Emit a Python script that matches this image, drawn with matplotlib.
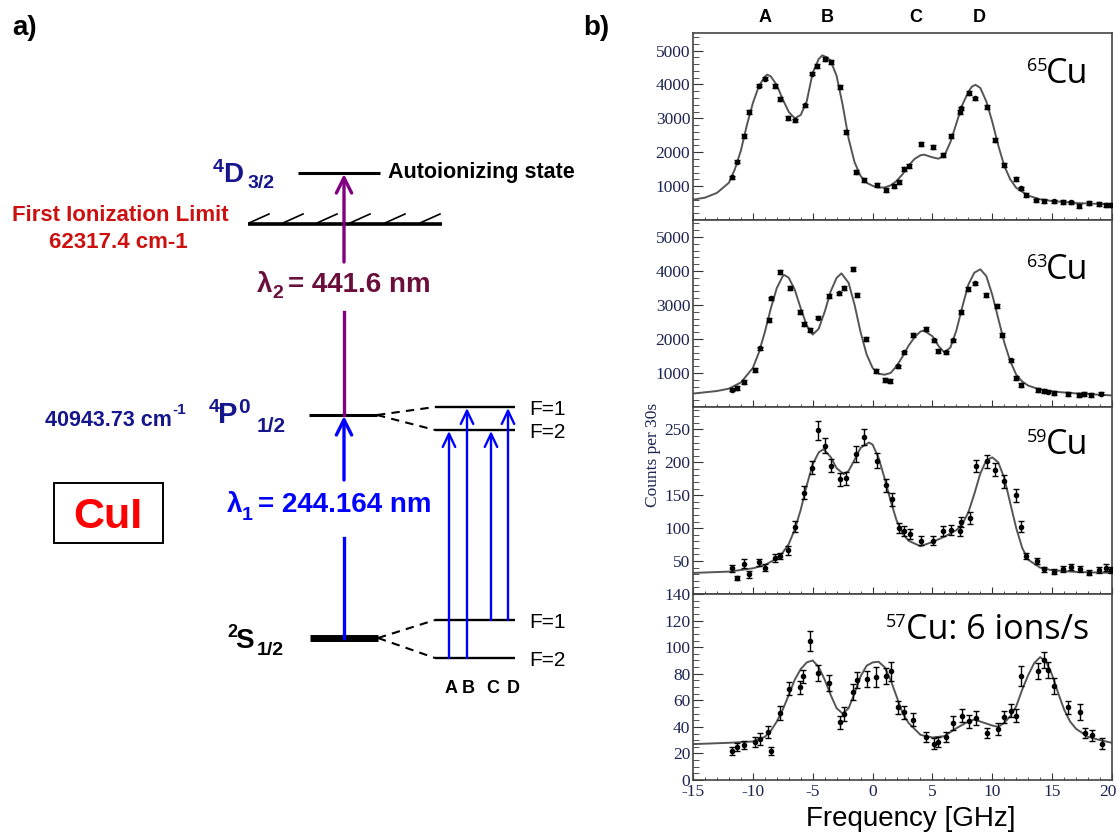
import numpy as np
import matplotlib
matplotlib.use('Agg')
import matplotlib.pyplot as plt
from matplotlib.ticker import MultipleLocator, FixedLocator, FuncFormatter

plt.rcParams['axes.unicode_minus'] = False

# ---------------- panel b) data (read from the picture) ----------------
# 65Cu
freq_65 = [-11.76, -11.29, -10.73, -10.31, -9.47, -8.97, -8.13, -7.71, -7.07, -6.46,
           -5.62, -5.06, -4.64, -3.94, -3.44, -2.69, -2.21, -1.40, -0.73, 0.38,
           1.08, 1.78, 2.20, 2.62, 3.03, 4.07, 5.04, 5.88, 6.58, 7.28,
           7.36, 8.06, 8.56, 9.60, 10.24, 10.99, 11.97, 12.44, 12.80, 13.64,
           14.34, 15.18, 15.88, 16.57, 17.27, 18.11, 18.89, 19.50, 19.90]
counts_65 = [1255, 1725, 2480, 3185, 3970, 4175, 3950, 3575, 3018, 2940,
             3380, 4322, 4537, 4753, 4655, 3920, 2607, 1421, 1176, 1029,
             892, 1009, 1127, 1500, 1597, 2254, 2146, 1911, 2480, 3185,
             3293, 3753, 3587, 3333, 2352, 1617, 1205, 931, 735, 578,
             559, 549, 529, 519, 421, 500, 480, 441, 450]
fit_f_65 = [-15, -14, -13, -12, -11.5, -11, -10.5, -10, -9.5, -9, -8.8, -8.5, -8, -7.5, -7,
            -6.5, -6, -5.5, -5, -4.5, -4.2, -3.8, -3.5, -3, -2.5, -2, -1.5, -1, -0.5, 0,
            0.5, 1, 1.5, 2, 2.5, 3, 3.5, 4, 4.3, 5, 5.5, 6, 6.5, 7, 7.5,
            8, 8.3, 8.6, 9, 9.5, 10, 10.5, 11, 11.5, 12, 13, 14, 15, 17, 20]
fit_c_65 = [600, 660, 800, 1100, 1500, 2050, 2800, 3450, 3950, 4230, 4290, 4240, 3980, 3560, 3190,
            3000, 3100, 3500, 4350, 4750, 4860, 4800, 4700, 4250, 3400, 2400, 1700, 1300, 1100, 1010,
            960, 960, 1020, 1150, 1350, 1600, 1800, 1910, 1930, 1850, 1810, 1900, 2300, 2850, 3400,
            3780, 3940, 3990, 3900, 3500, 2900, 2200, 1600, 1200, 950, 720, 610, 560, 500, 460]

# 63Cu
freq_63 = [-11.76, -11.29, -10.73, -9.81, -9.39, -8.69, -8.50, -7.71, -6.93, -6.10,
           -5.76, -5.26, -4.59, -3.61, -2.77, -2.41, -1.66, -1.29, -0.51, 0.27,
           1.00, 1.44, 2.11, 2.62, 3.37, 4.43, 5.13, 5.46, 6.10, 6.72,
           7.42, 8.00, 8.56, 9.51, 10.43, 10.85, 11.55, 11.97, 12.39, 13.78,
           14.29, 14.62, 15.12, 16.30, 17.27, 17.69, 18.25, 19.09]
counts_63 = [512, 561, 727, 1098, 1722, 2561, 3195, 3976, 3498, 2805,
             2434, 2268, 2629, 3263, 3341, 3498, 4054, 3293, 1995, 1049,
             805, 756, 1195, 1605, 2122, 2288, 1956, 1654, 1605, 1956,
             2805, 3478, 3634, 3293, 2971, 2122, 1371, 854, 639, 502,
             473, 454, 415, 385, 346, 385, 346, 395]
fit_f_63 = [-15, -13, -12, -11, -10, -9.5, -9, -8.5, -8, -7.5, -7.35, -7, -6.5, -6, -5.5,
            -5, -4.5, -4, -3.5, -3, -2.6, -2, -1.5, -1, -0.5, 0, 0.5, 1, 1.5, 2,
            2.5, 3, 3.5, 4, 4.3, 5, 5.5, 6, 6.5, 7, 7.5, 8, 8.5, 9, 9.5,
            10, 10.5, 11, 11.5, 12, 12.5, 13, 14, 15, 17, 20]
fit_c_63 = [395, 470, 540, 720, 1150, 1600, 2200, 2900, 3500, 3850, 3880, 3800, 3450, 2900, 2400,
            2130, 2300, 2800, 3400, 3800, 3930, 3650, 3000, 2200, 1550, 1150, 980, 950, 1000, 1200,
            1480, 1800, 2050, 2220, 2250, 2080, 1800, 1600, 1750, 2250, 2950, 3600, 3950, 4050, 3850,
            3300, 2600, 1900, 1350, 950, 750, 630, 510, 455, 400, 340]

# 59Cu
freq_59 = [-11.71, -11.29, -10.73, -10.31, -9.47, -8.97, -8.13, -7.71, -7.10, -6.46,
           -5.70, -5.06, -4.59, -4.00, -3.44, -2.69, -2.21, -1.40, -0.73, 0.38,
           1.08, 1.64, 2.20, 2.62, 3.09, 4.07, 5.04, 5.88, 6.58, 7.28,
           7.36, 8.14, 8.62, 9.54, 10.24, 10.99, 11.97, 12.44, 12.80, 13.70,
           14.34, 15.18, 15.88, 16.57, 17.35, 18.11, 18.89, 19.50, 19.95]
counts_59 = [39, 24, 46, 30, 48, 40, 54, 57.5, 66.5, 102.5,
             154, 192, 248.5, 225.5, 195, 174, 176, 212.5, 238, 202.5,
             165, 144, 100, 96, 91, 81, 81, 96, 97.5, 96,
             109, 115, 195, 201.5, 188.5, 171, 150, 102.5, 57.5, 50,
             37.5, 34, 38, 41, 38, 32.5, 36.5, 40, 36.5]
err_59 = [5, 3, 7, 5, 5, 5, 6, 5, 7, 8,
          10, 10, 14, 11, 10, 10, 10, 12, 12, 11,
          10, 10, 8, 8, 8, 7, 7, 8, 8, 8,
          8, 9, 9, 10, 10, 10, 10, 8, 5, 5,
          4, 4, 4, 4, 4, 4, 4, 5, 4]
fit_f_59 = [-15, -12, -10, -9, -8, -7.5, -7, -6.5, -6, -5.5, -5, -4.5, -4.1, -3.5, -3,
            -2.4, -2, -1.5, -1, -0.3, 0, 0.5, 1, 1.5, 2, 2.5, 3, 4, 5, 6,
            7, 7.5, 8, 8.5, 9, 9.5, 10, 10.5, 11, 11.5, 12, 12.5, 13, 14, 15, 17, 20]
fit_c_59 = [32, 34, 39, 44, 54, 63, 76, 98, 128, 165, 197, 215, 220, 208, 191,
            182, 187, 204, 222, 230, 227, 207, 176, 142, 112, 92, 81, 72.5, 79, 87,
            97, 106, 124, 152, 183, 203, 207.5, 200, 176, 138, 100, 70, 52, 40, 36, 33.5, 32]

# 57Cu
freq_57 = [-11.78, -11.30, -10.74, -9.82, -9.40, -8.70, -8.50, -7.72, -6.94, -6.10,
           -5.82, -5.25, -4.58, -3.60, -2.73, -2.40, -1.64, -1.28, -0.49, 0.29,
           1.10, 1.52, 2.14, 2.64, 3.40, 4.46, 5.16, 5.50, 6.14, 6.76,
           7.46, 8.05, 8.60, 9.56, 10.48, 10.96, 11.55, 12.02, 12.44, 13.84,
           14.35, 14.68, 15.19, 16.36, 17.34, 17.76, 18.32, 19.16]
counts_57 = [21.75, 24.75, 26.25, 28.5, 31, 36.25, 21.75, 50.5, 68.75, 69.75,
             78, 104.75, 80.5, 73, 43.5, 49.75, 66, 75.5, 76.25, 77.5,
             78, 81.75, 54.75, 51, 45.5, 32.25, 27.25, 28.5, 32.25, 43,
             48.5, 44.25, 46.75, 35.5, 38.5, 47.25, 52.25, 48.5, 78.5, 81.75,
             90.5, 83, 71, 54.75, 51.25, 35.5, 33.5, 27.25]
err_57 = [3, 3, 3, 4, 4.5, 4.5, 3, 5, 5, 5,
          5, 7.5, 6, 6, 5, 5, 6, 6, 6, 7.5,
          6, 7, 5, 5, 5, 4, 4, 4, 4, 5,
          5, 5, 5, 4, 4.5, 4.5, 5, 5, 7.5, 6,
          6, 6, 6, 5, 6, 4, 4, 4]
fit_f_57 = [-15, -12, -10, -9, -8.5, -8, -7.5, -7, -6.5, -6, -5.5, -5, -4.5, -4, -3.5,
            -3, -2.5, -2, -1.5, -1, -0.5, 0, 0.5, 1, 1.5, 2, 2.5, 3, 4, 5,
            6, 7, 8, 8.5, 9, 10, 10.5, 11, 11.5, 12, 12.5, 13, 13.5, 14, 14.5,
            15, 15.5, 16, 16.5, 17, 18, 19, 20]
fit_c_57 = [27, 28, 29, 32.5, 37, 44, 53, 64, 75.5, 83.5, 88.5, 90, 85, 75.5, 64,
            54, 50, 54, 65.5, 78, 86, 88.5, 89, 85, 75.5, 63, 50.5, 43, 34, 32,
            33, 39, 44, 45.5, 44, 41, 40, 43, 48, 55.5, 68, 79, 88, 92.5, 89,
            79, 65.5, 53, 44, 38.5, 32.5, 30, 28]

peak_names = ['A', 'B', 'C', 'D']
peak_pos = [-9.0, -3.8, 3.6, 8.9]   # GHz, where the letters sit above the top panel

# ---------------- figure ----------------
W, H = 1117, 834
fig = plt.figure(figsize=(W / 100, H / 100), dpi=100)

# overlay in pixel units for the level scheme a) and loose labels (kept on top)
ov = fig.add_axes([0, 0, 1, 1])
ov.set_xlim(0, W)
ov.set_ylim(H, 0)
ov.axis('off')
ov.set_zorder(10)

navy = '#15158c'
red_dark = '#cc1010'
blue = '#0000ff'
purple = '#800080'
maroon = '#6a0f3c'


def txt(x, y, s, size, color='black', weight='bold', ha='left', family='Liberation Sans', **kw):
    ov.text(x, y, s, fontsize=size, color=color, fontweight=weight, ha=ha,
            va='baseline', family=family, **kw)


def seta(x, y0, y1, color, lw, hl, hw):
    ov.annotate('', xy=(x, y1), xytext=(x, y0),
                arrowprops=dict(arrowstyle=f'->,head_length={hl},head_width={hw}',
                                color=color, lw=lw, shrinkA=0, shrinkB=0,
                                mutation_scale=10))


# level heights (pixels)
y_D, y_ion, y_P, y_S = 173, 224, 415, 638
y_P_F1, y_P_F2 = 407, 430
y_S_F1, y_S_F2 = 620, 658
hatch_x = [249, 283, 317, 350, 385, 420]

# main levels
ov.plot([298, 380], [y_D, y_D], color='black', lw=2.2, solid_capstyle='butt')
ov.plot([248, 442], [y_ion, y_ion], color='black', lw=2.6, solid_capstyle='butt')
for xh in hatch_x:
    ov.plot([xh, xh + 20], [y_ion - 1, y_ion - 10], color='black', lw=1.2)
ov.plot([309, 377], [y_P, y_P], color='black', lw=2.2, solid_capstyle='butt')
ov.plot([310, 378], [y_S, y_S], color='black', lw=5, solid_capstyle='butt')

# hyperfine levels
for yF in (y_P_F1, y_P_F2):
    ov.plot([377, 435], [y_P, yF], color='black', lw=1.5, ls=(0, (4, 3)))
    ov.plot([435, 515], [yF, yF], color='black', lw=1.7, solid_capstyle='butt')
for yF in (y_S_F1, y_S_F2):
    ov.plot([378, 435], [y_S, yF], color='black', lw=1.5, ls=(0, (4, 3)))
    ov.plot([435, 515], [yF, yF], color='black', lw=1.7, solid_capstyle='butt')

# excitation arrows with a gap for the wavelength labels
x_main = 344
ov.plot([x_main, x_main], [y_P, 312], color=purple, lw=2.4)
seta(x_main, 262, y_D + 1, purple, 2.4, 1.1, 0.55)
ov.plot([x_main, x_main], [y_S, 538], color=blue, lw=2.4)
seta(x_main, 480, y_P + 1, blue, 2.4, 1.1, 0.55)

hf_x = [449, 467, 491, 508]
hf_from = [y_S_F2, y_S_F2, y_S_F1, y_S_F1]
hf_to = [y_P_F2, y_P_F1, y_P_F2, y_P_F1]
for xa, ya, yb in zip(hf_x, hf_from, hf_to):
    seta(xa, ya, yb + 1, blue, 1.7, 0.95, 0.45)
for name, xl in zip(peak_names, [451, 468, 493, 513]):
    txt(xl, 693, name, 13, ha='center')

# level labels
txt(213, 172, '4', 14, navy)
txt(223, 182, 'D', 20, navy)
txt(248, 188, '3/2', 14, navy)
txt(388, 178, 'Autoionizing state', 15.5)
txt(120, 221, 'First Ionization Limit', 16, red_dark, ha='center')
txt(118, 248, '62317.4 cm-1', 16, red_dark, ha='center')
txt(257, 292, 'λ', 20, maroon)
txt(272, 298, '2', 14, maroon)
txt(288, 292, '= 441.6 nm', 20, maroon)
txt(45, 426, '40943.73 cm', 15.5, navy)
txt(172, 414, '-1', 11, navy)
txt(209, 412, '4', 14, navy)
txt(218, 423, 'P', 21, navy)
txt(238, 413, '0', 15, navy)
txt(257, 432, '1/2', 15, navy)
txt(227, 512, 'λ', 20, blue)
txt(242, 520, '1', 14, blue)
txt(258, 512, '= 244.164 nm', 20, blue)
txt(227, 637, '2', 13, 'black')
txt(235, 648, 'S', 20, 'black')
txt(257, 655, '1/2', 14, 'black')
for yF, lab in [(y_P_F1, 'F=1'), (y_P_F2, 'F=2'), (y_S_F1, 'F=1'), (y_S_F2, 'F=2')]:
    txt(529, yF + 8, lab, 15, weight='normal')

# CuI box
ov.add_patch(plt.Rectangle((54, 483), 109, 60, fill=False, ec='black', lw=1.4))
txt(108, 528, 'CuI', 31, '#ff0000', ha='center')

txt(12, 35, 'a)', 20)
txt(583, 35, 'b)', 20)

# ---------------- spectra panels ----------------
edges = [33, 220, 407, 594, 780]
x_left, x_right = 693, 1112
tick_col = '#1c2450'

panels = [
    (freq_65, counts_65, 55, fit_f_65, fit_c_65, (0, 5520), [1000, 2000, 3000, 4000, 5000], 200, '65', 'Cu', 1027, 1046, 83),
    (freq_63, counts_63, 55, fit_f_63, fit_c_63, (0, 5500), [1000, 2000, 3000, 4000, 5000], 200, '63', 'Cu', 1027, 1046, 279),
    (freq_59, counts_59, err_59, fit_f_59, fit_c_59, (0, 284), [50, 100, 150, 200, 250], 10, '59', 'Cu', 1027, 1046, 454),
    (freq_57, counts_57, err_57, fit_f_57, fit_c_57, (0, 140), [0, 20, 40, 60, 80, 100, 120, 140], 5, '57', 'Cu: 6 ions/s', 886, 906, 639),
]

axes = []
for i, (fx, cy, ey, ff, fc, ylim, majors, minor, sup, lab, xs, xm, yb) in enumerate(panels):
    bottom = 1 - edges[i + 1] / H
    height = (edges[i + 1] - edges[i]) / H
    ax = fig.add_axes([x_left / W, bottom, (x_right - x_left) / W, height])
    ax.plot(ff, fc, color='#555555', lw=1.4, zorder=2)
    ax.errorbar(fx, cy, yerr=ey, fmt='o', ms=3, color='black', ecolor='black',
                elinewidth=1, capsize=2, capthick=1, zorder=3)
    ax.set_xlim(-15, 20)
    ax.set_ylim(*ylim)
    ax.xaxis.set_major_locator(MultipleLocator(5))
    ax.xaxis.set_minor_locator(MultipleLocator(1))
    ax.yaxis.set_major_locator(FixedLocator(majors))
    ax.yaxis.set_minor_locator(MultipleLocator(minor))
    ax.tick_params(which='both', direction='in', top=False, right=False, color='#333333',
                   labelcolor=tick_col, labelsize=12.5)
    ax.tick_params(axis='y', which='major', length=7.5, pad=2)
    ax.tick_params(axis='y', which='minor', length=4)
    ax.tick_params(axis='x', which='major', length=5, pad=3)
    ax.tick_params(axis='x', which='minor', length=2.5)
    for lbl in ax.get_xticklabels() + ax.get_yticklabels():
        lbl.set_family('Liberation Serif')
    if i < 3:
        ax.tick_params(axis='x', labelbottom=False)
    else:
        # last label "20" sits at the figure edge, drawn a little inside
        ax.xaxis.set_major_formatter(FuncFormatter(lambda v, p: '' if v >= 20 else f'{v:g}'))
        ax.text(0.99, -0.022, '20', transform=ax.transAxes, ha='center', va='top',
                fontsize=12.5, family='Liberation Serif', color=tick_col)
    for sp in ax.spines.values():
        sp.set_color('#444444')
        sp.set_linewidth(1.2)
    axes.append(ax)
    # isotope label
    txt(xs, yb - 12, sup, 13, weight='normal', family='Open Sans')
    txt(xm, yb, lab, 24.5, weight='normal', family='Open Sans')

for name, pos in zip(peak_names, peak_pos):
    axes[0].text(pos, 1.04, name, transform=axes[0].get_xaxis_transform(), ha='center',
                 va='bottom', fontsize=13, fontweight='bold', family='Liberation Sans')

ov.text(653, 455, 'Counts per 30s', rotation=90, ha='center', va='center', fontsize=12.5,
        family='Liberation Serif', color=tick_col)
txt(911, 826, 'Frequency [GHz]', 20, weight='normal', ha='center')

fig.savefig('out.png', dpi=100)
